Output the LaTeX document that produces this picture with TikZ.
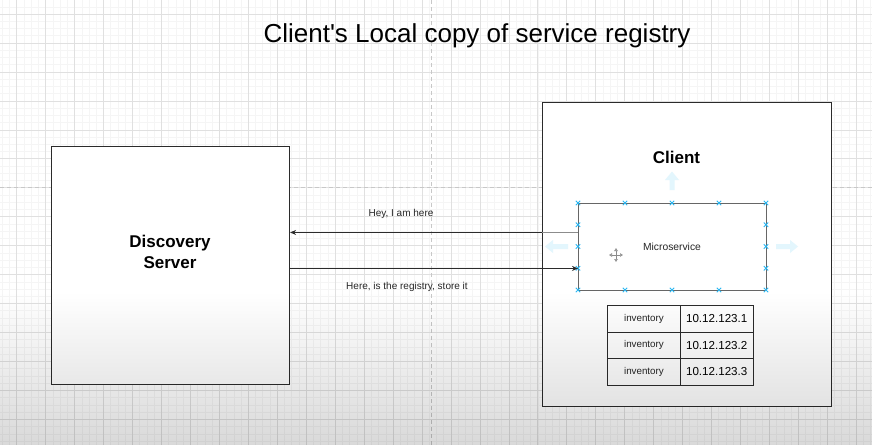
\documentclass[tikz,border=0pt]{standalone}
\usepackage{fontspec}
\setmainfont{Liberation Sans}
\usetikzlibrary{arrows.meta,fadings}
\tikzfading[name=shadebottom, top color=transparent!100, bottom color=transparent!0]
\definecolor{handle}{HTML}{29B6F2}
\definecolor{edge}{HTML}{2B2B2B}
\definecolor{minorgrid}{HTML}{F5F5F5}
\definecolor{majorgrid}{HTML}{E0E0E0}
\definecolor{pagebreak}{HTML}{C8C8C8}
\begin{document}
\begin{tikzpicture}[x=1pt,y=-1pt,
  frame/.style={draw=edge, line width=1.1pt, fill=white, inner sep=0pt, anchor=north west},
  cell/.style={draw=edge, line width=0.9pt, fill=white, inner sep=0pt, anchor=north west, minimum height=26.5pt},
  conn/.style={draw=edge, line width=0.8pt, -{Stealth[length=6pt,width=5pt]}},
  msglabel/.style={font=\fontsize{10}{12}\selectfont, text=black!85},
  handlemark/.style={draw=handle, line width=0.9pt},
  ghostarrow/.style={fill=handle!13, draw=none}]
\useasboundingbox (0,0) rectangle (872,445);
\fill[white] (0,0) rectangle (872,445);

% canvas grid
\foreach \i in {0,...,120}
  \draw[minorgrid, line width=0.6pt] ({2.225+\i*7.2375},0) -- ++(0,445);
\foreach \i in {0,...,61}
  \draw[minorgrid, line width=0.6pt] (0,{6.8+\i*7.2375}) -- ++(872,0);
\foreach \i in {0,...,29}
  \draw[majorgrid, line width=0.7pt] ({16.7+\i*28.95},0) -- ++(0,445);
\foreach \i in {0,...,15}
  \draw[majorgrid, line width=0.7pt] (0,{14.05+\i*28.95}) -- ++(872,0);

% page break lines
\draw[pagebreak, line width=0.8pt, dash pattern=on 4pt off 3pt] (431,0) -- (431,445);
\draw[pagebreak, line width=0.8pt, dash pattern=on 4pt off 3pt] (0,187.75) -- (872,187.75);

% title
\node[font=\fontsize{26}{30}\selectfont, anchor=base, inner sep=0pt] (title) at (477,42.3) {Client\textquotesingle s Local copy of service registry};

% discovery server
\node[frame, minimum width=238pt, minimum height=238pt] (ds) at (51,146) {};
\node[font=\bfseries\fontsize{17}{21}\selectfont, align=center, anchor=base, inner sep=0pt] (dslabel) at (170,268) {Discovery\\Server};

% client
\node[frame, line width=1.2pt, minimum width=289pt, minimum height=304pt] (client) at (542,102) {};
\node[font=\bfseries\fontsize{17}{21}\selectfont, anchor=base, inner sep=0pt] (clientlabel) at (676.5,163) {Client};

% move hints around the selected shape
\fill[ghostarrow] (669.5,190) -- (669.5,180) -- (665,180) -- (672,171.5) -- (679,180) -- (674.5,180) -- (674.5,190) -- cycle;
\fill[ghostarrow] (568,244) -- (553,244) -- (553,240) -- (545,246.5) -- (553,253) -- (553,249) -- (568,249) -- cycle;
\fill[ghostarrow] (776,244) -- (790,244) -- (790,240) -- (798,246.5) -- (790,253) -- (790,249) -- (776,249) -- cycle;

% microservice
\node[draw=black!60, line width=0.9pt, fill=white, inner sep=0pt, anchor=north west, minimum width=188pt, minimum height=87pt] (ms) at (578,203) {};
\node[font=\fontsize{10.3}{12}\selectfont, text=black!85] (mslabel) at (672,246.5) {Microservice};

% selection handles
\foreach \hx in {578,625,672,719,766} {
  \foreach \hy in {203,290} {
    \draw[handlemark] (\hx-2.2,\hy-2.2) -- (\hx+2.2,\hy+2.2) (\hx-2.2,\hy+2.2) -- (\hx+2.2,\hy-2.2);
  }
}
\foreach \hy in {224.75,246.5,268.25} {
  \foreach \hx in {578,766} {
    \draw[handlemark] (\hx-2.2,\hy-2.2) -- (\hx+2.2,\hy+2.2) (\hx-2.2,\hy+2.2) -- (\hx+2.2,\hy-2.2);
  }
}

% move cursor
\coordinate (cur) at (616,255);
\draw[black!45, line width=0.6pt, {Triangle[open,length=3pt,width=3.5pt]}-{Triangle[open,length=3pt,width=3.5pt]}] ([xshift=-7pt]cur) -- ([xshift=7pt]cur);
\draw[black!45, line width=0.6pt, {Triangle[open,length=3pt,width=3.5pt]}-{Triangle[open,length=3pt,width=3.5pt]}] ([yshift=-7pt]cur) -- ([yshift=7pt]cur);

% messages
\coordinate (heyfrom) at ([yshift=14.5pt]ms.west);
\coordinate (regfrom) at ([yshift=-21.5pt]ms.west);
\draw[conn] (heyfrom) -- (heyfrom -| ds.east);
\draw[black!45, line width=0.8pt] (heyfrom) -- (heyfrom -| client.west);
\draw[conn] (regfrom -| ds.east) -- (regfrom);
\node[msglabel] (heylabel) at (401,214) {Hey, I am here};
\node[msglabel] (reglabel) at (407,287) {Here, is the registry, store it};

% local registry table
\foreach \r/\ip [count=\k from 0] in {1/10.12.123.1,2/10.12.123.2,3/10.12.123.3} {
  \node[cell, minimum width=73pt, font=\fontsize{9.8}{12}\selectfont, text=black!85] (name\r) at (607,{305+\k*26.5}) {inventory};
  \node[cell, minimum width=72.5pt, font=\fontsize{11.6}{14}\selectfont] (ip\r) at (680,{305+\k*26.5}) {\ip};
}

% soft shading along the bottom
\fill[black, opacity=0.15, path fading=shadebottom] (0,292) rectangle (872,445);
\end{tikzpicture}
\end{document}
